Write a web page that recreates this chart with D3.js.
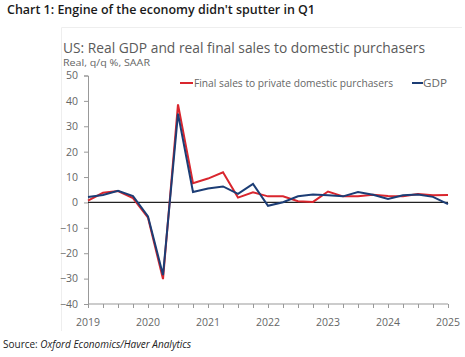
<!DOCTYPE html>
<html><head><meta charset="utf-8">
<script src="https://cdn.jsdelivr.net/npm/d3@7"></script>
<style>body{margin:0;background:#fff}svg{display:block}</style>
</head><body>
<svg id="c" width="465" height="357"></svg>
<script>
const quarters = ["2019Q1","2019Q2","2019Q3","2019Q4","2020Q1","2020Q2","2020Q3","2020Q4","2021Q1","2021Q2","2021Q3","2021Q4","2022Q1","2022Q2","2022Q3","2022Q4","2023Q1","2023Q2","2023Q3","2023Q4","2024Q1","2024Q2","2024Q3","2024Q4","2025Q1"];
const finalSales = [0.7,3.8,4.5,1.7,-6.0,-30.2,38.6,7.6,9.4,11.9,1.9,4.0,2.4,2.4,0.5,0.2,4.3,2.4,2.4,3.0,2.5,2.4,3.3,2.8,2.9];
const gdp = [2.1,2.9,4.6,2.5,-5.5,-28.6,35.0,4.1,5.5,6.3,3.4,7.3,-1.3,0.1,2.4,3.1,2.8,2.4,4.1,3.0,1.4,2.8,3.1,2.2,-0.7];
const yTicks = [50,40,30,20,10,0,-10,-20,-30,-40];
const yearLabels = ["2019","2020","2021","2022","2023","2024","2025"];

const svg = d3.select("#c");
const font = "'Open Sans', 'Noto Sans', sans-serif";

// panel border
svg.append("line").attr("x1",61.5).attr("x2",462).attr("y1",27.5).attr("y2",27.5).attr("stroke","#eeeeee");
svg.append("line").attr("x1",61.5).attr("x2",61.5).attr("y1",27.5).attr("y2",331).attr("stroke","#eeeeee");

// header
svg.append("text").attr("x",7).attr("y",14).attr("font-family",font).attr("font-weight",600)
  .attr("font-size",12.5).attr("fill","#1a1a1a").attr("textLength",308).attr("lengthAdjust","spacingAndGlyphs")
  .text("Chart 1: Engine of the economy didn't sputter in Q1");

svg.append("text").attr("x",63).attr("y",53).attr("font-family",font)
  .attr("font-size",15).attr("fill","#5a5a5a").attr("textLength",362).attr("lengthAdjust","spacingAndGlyphs")
  .text("US: Real GDP and real final sales to domestic purchasers");
svg.append("text").attr("x",63).attr("y",66).attr("font-family",font)
  .attr("font-size",9.5).attr("fill","#666").attr("textLength",87).attr("lengthAdjust","spacingAndGlyphs")
  .text("Real, q/q %, SAAR");

const x = d3.scaleLinear().domain([0, quarters.length-1]).range([88, 448]);
const y = d3.scaleLinear().domain([-40,50]).range([304,75.5]);

// y axis
const ya = svg.append("g").attr("transform","translate(88,0)")
  .call(d3.axisLeft(y).tickValues(yTicks).tickSize(4).tickPadding(6).tickFormat(d3.format("d")));
ya.select(".domain").attr("stroke","#999");
ya.selectAll(".tick line").attr("stroke","#999");
ya.selectAll("text").attr("font-family",font).attr("font-size",10.5).attr("fill","#666");

// x axis (quarter ticks)
const xa = svg.append("g").attr("transform",`translate(0,${y(-40)})`)
  .call(d3.axisBottom(x).tickValues(d3.range(quarters.length)).tickSize(4).tickFormat(""));
xa.select(".domain").attr("stroke","#999").attr("d",`M${x(0)},0H${x(quarters.length-1)}`);
xa.selectAll(".tick line").attr("stroke","#999");
svg.append("g").selectAll("text").data(yearLabels).join("text")
  .attr("x",(d,i)=>x(i*4)).attr("y",326).attr("text-anchor","middle")
  .attr("font-family",font).attr("font-size",10.5).attr("fill","#666").text(d=>d);

// zero line
svg.append("line").attr("x1",x(0)).attr("x2",x(quarters.length-1)).attr("y1",y(0)).attr("y2",y(0))
  .attr("stroke","#222").attr("stroke-width",1.2);

const line = d3.line().x((d,i)=>x(i)).y(d=>y(d));
svg.append("path").datum(finalSales).attr("d",line).attr("fill","none").attr("stroke","#d9262e").attr("stroke-width",2);
svg.append("path").datum(gdp).attr("d",line).attr("fill","none").attr("stroke","#1c3d75").attr("stroke-width",2);

// legend
const lg = svg.append("g");
lg.append("line").attr("x1",180).attr("x2",193).attr("y1",83).attr("y2",83).attr("stroke","#d9262e").attr("stroke-width",2);
lg.append("text").attr("x",194).attr("y",86.5).attr("font-family",font).attr("font-size",10.5).attr("fill","#666")
  .attr("textLength",199).attr("lengthAdjust","spacingAndGlyphs").text("Final sales to private domestic purchasers");
lg.append("line").attr("x1",412).attr("x2",423).attr("y1",83).attr("y2",83).attr("stroke","#1c3d75").attr("stroke-width",2);
lg.append("text").attr("x",423).attr("y",86.5).attr("font-family",font).attr("font-size",10.5).attr("fill","#666")
  .attr("textLength",24).attr("lengthAdjust","spacingAndGlyphs").text("GDP");

// source
const src = svg.append("text").attr("x",3).attr("y",348).attr("font-family",font).attr("font-size",10).attr("fill","#222");
src.append("tspan").text("Source: ");
src.append("tspan").attr("font-style","italic").text("Oxford Economics/Haver Analytics");
</script>
</body></html>
